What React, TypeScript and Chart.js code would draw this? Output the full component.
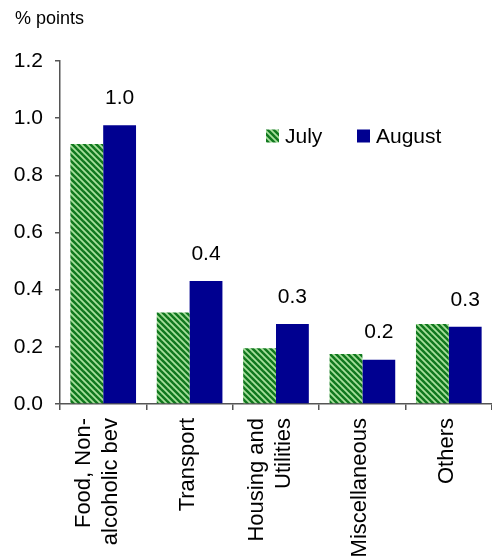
import React, { useEffect, useRef } from "react";
import { Chart, registerables } from "chart.js";

Chart.register(...registerables);

const categories: (string | string[])[] = [
  ["Food, Non-", "alcoholic bev"],
  "Transport",
  ["Housing and", "Utilities"],
  "Miscellaneous",
  "Others",
];
const julyValues = [0.91, 0.32, 0.195, 0.175, 0.28];
const augustValues = [0.975, 0.43, 0.28, 0.155, 0.27];
const seriesNames = ["July", "August"];
const yTicks = [0, 0.2, 0.4, 0.6, 0.8, 1.0, 1.2];
const unitLabel = "% points";

const FONT = "'Liberation Sans', Arial, sans-serif";

function makeHatch(): CanvasPattern | string {
  const s = 6;
  const c = document.createElement("canvas");
  c.width = s;
  c.height = s;
  const g = c.getContext("2d");
  if (!g) return "#2a8a3a";
  g.fillStyle = "#a8e09c";
  g.fillRect(0, 0, s, s);
  g.strokeStyle = "#10781e";
  g.lineWidth = 2.5;
  for (const k of [-s, 0, s]) {
    g.beginPath();
    g.moveTo(k - 1, -1);
    g.lineTo(k + s + 1, s + 1);
    g.stroke();
  }
  const p = g.createPattern(c, "repeat");
  return p || "#2a8a3a";
}

export default function App() {
  const ref = useRef<HTMLCanvasElement | null>(null);

  useEffect(() => {
    const canvas = ref.current;
    if (!canvas) return;
    const hatch = makeHatch();

    const overlay = {
      id: "overlay",
      afterDatasetsDraw(chart: any) {
        const ctx = chart.ctx as CanvasRenderingContext2D;
        ctx.save();
        // unit label
        ctx.fillStyle = "#000";
        ctx.font = `18px ${FONT}`;
        ctx.textAlign = "left";
        ctx.textBaseline = "middle";
        ctx.fillText(unitLabel, 15, 19);

        // value labels above August bars
        ctx.font = `21px ${FONT}`;
        ctx.textAlign = "center";
        const meta = chart.getDatasetMeta(1);
        meta.data.forEach((bar: any, i: number) => {
          const v = augustValues[i];
          ctx.fillText(v.toFixed(1), bar.x, bar.y - 27);
        });

        // legend
        const ly = 136;
        const box = 13;
        const items = [
          { x: 266, fill: hatch, text: seriesNames[0] },
          { x: 357, fill: "#000090", text: seriesNames[1] },
        ];
        ctx.textAlign = "left";
        items.forEach((it) => {
          ctx.fillStyle = it.fill as any;
          ctx.fillRect(it.x, ly - box / 2, box, box);
          ctx.fillStyle = "#000";
          ctx.fillText(it.text, it.x + box + 6, ly + 1);
        });

        // category labels (rotated, centred on each category)
        const xs = chart.scales.x;
        const top = xs.top + 14;
        const lh = 27;
        ctx.font = `22px ${FONT}`;
        ctx.textAlign = "right";
        ctx.textBaseline = "middle";
        categories.forEach((cat, i) => {
          const lines = Array.isArray(cat) ? cat : [cat];
          const px = xs.getPixelForValue(i) - (lines.length > 1 ? 6 : 2);
          ctx.save();
          ctx.translate(px, top);
          ctx.rotate(-Math.PI / 2);
          lines.forEach((ln, j) => {
            ctx.fillText(ln, 0, (j - (lines.length - 1) / 2) * lh);
          });
          ctx.restore();
        });
        ctx.restore();
      },
    };

    const chart = new Chart(canvas, {
      type: "bar",
      data: {
        labels: categories,
        datasets: [
          {
            label: seriesNames[0],
            data: julyValues,
            backgroundColor: hatch as any,
            borderWidth: 0,
          },
          {
            label: seriesNames[1],
            data: augustValues,
            backgroundColor: "#000090",
            borderWidth: 0,
          },
        ],
      },
      options: {
        responsive: false,
        animation: false,
        devicePixelRatio: 1,
        layout: { padding: { top: 61, right: 0, left: 0, bottom: 0 } },
        plugins: {
          legend: { display: false },
          tooltip: { enabled: false },
          title: { display: false },
        },
        datasets: {
          bar: { categoryPercentage: 0.76, barPercentage: 1 },
        },
        scales: {
          x: {
            grid: {
              display: true,
              offset: true,
              drawOnChartArea: false,
              drawTicks: true,
              tickLength: 6,
              color: "#555",
              lineWidth: 1.5,
            },
            border: { display: true, color: "#555", width: 1.5 },
            ticks: {
              display: false,
              autoSkip: false,
            },
            afterFit(scale: any) {
              scale.height = 156;
            },
          },
          y: {
            min: 0,
            max: 1.2,
            afterBuildTicks(scale: any) {
              scale.ticks = yTicks.map((v) => ({ value: v }));
            },
            grid: {
              display: true,
              drawOnChartArea: false,
              drawTicks: true,
              tickLength: 5,
              color: "#555",
              lineWidth: 1.5,
            },
            border: { display: true, color: "#555", width: 1.5 },
            ticks: {
              padding: 12,
              color: "#000",
              font: { family: FONT, size: 21 },
              callback: (v: any) => Number(v).toFixed(1),
            },
            afterFit(scale: any) {
              scale.width = 60;
            },
          },
        },
      },
      plugins: [overlay],
    });

    return () => chart.destroy();
  }, []);

  return (
    <div style={{ position: "absolute", left: 0, top: 0, width: 492, height: 560, background: "#fff" }}>
      <canvas ref={ref} width={492} height={560} style={{ width: 492, height: 560 }} />
    </div>
  );
}
